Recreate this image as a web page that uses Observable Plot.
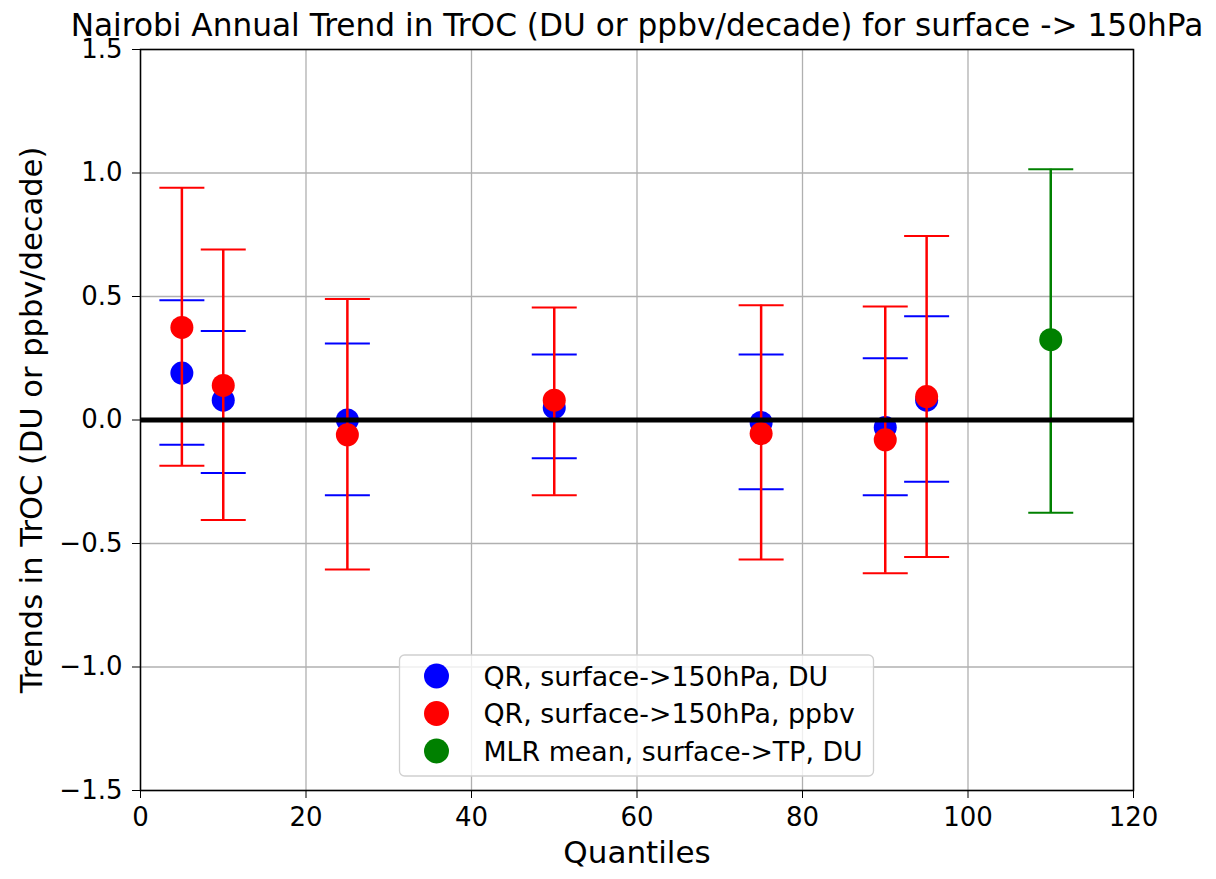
<!DOCTYPE html>
<html>
<head>
<meta charset="utf-8">
<script src="https://cdn.jsdelivr.net/npm/d3@7"></script>
<script src="https://cdn.jsdelivr.net/npm/@observablehq/plot@0.6"></script>
<style>
  html, body { margin: 0; padding: 0; background: #fff; }
  #chart svg { display: block; }
</style>
</head>
<body>
<div id="chart"></div>
<script>
// ---- Data ----
const titleText = "Nairobi Annual Trend in TrOC (DU or ppbv/decade) for surface -> 150hPa";
const xLabel = "Quantiles";
const yLabel = "Trends in TrOC (DU or ppbv/decade)";

const quantiles = [5, 10, 25, 50, 75, 90, 95];

const duTrend = [0.19, 0.08, 0.0, 0.05, -0.01, -0.03, 0.08];
const duLower = [-0.10, -0.215, -0.305, -0.155, -0.28, -0.305, -0.25];
const duUpper = [0.485, 0.36, 0.31, 0.265, 0.265, 0.25, 0.42];

const ppbvTrend = [0.375, 0.14, -0.06, 0.08, -0.055, -0.08, 0.095];
const ppbvLower = [-0.185, -0.405, -0.605, -0.305, -0.565, -0.62, -0.555];
const ppbvUpper = [0.94, 0.69, 0.49, 0.455, 0.465, 0.46, 0.745];

const mlrX = [110];
const mlrTrend = [0.325];
const mlrLower = [-0.375];
const mlrUpper = [1.015];

const xTicks = [0, 20, 40, 60, 80, 100, 120];
const yTicks = [-1.5, -1.0, -0.5, 0.0, 0.5, 1.0, 1.5];

const legendLabels = [
  "QR, surface->150hPa, DU",
  "QR, surface->150hPa, ppbv",
  "MLR mean, surface->TP, DU"
];
const seriesColors = ["#0000ff", "#ff0000", "#008000"];

// ---- Tables built from the arrays ----
const du = quantiles.map((q, i) => ({x: q, y: duTrend[i], lo: duLower[i], hi: duUpper[i]}));
const ppbv = quantiles.map((q, i) => ({x: q, y: ppbvTrend[i], lo: ppbvLower[i], hi: ppbvUpper[i]}));
const mlr = mlrX.map((q, i) => ({x: q, y: mlrTrend[i], lo: mlrLower[i], hi: mlrUpper[i]}));

// horizontal cap symbol (pixel width set by r)
const capSymbol = {
  draw(context, size) {
    const w = Math.sqrt(size / Math.PI);
    context.moveTo(-w, 0);
    context.lineTo(w, 0);
  }
};

const FONT = "DejaVu Sans, sans-serif";
const W = 1216, H = 879;
const mL = 140, mR = 83, mT = 49, mB = 89;

function errorMarks(data, color, withLine) {
  const marks = [];
  if (withLine) marks.push(Plot.ruleX(data, {x: "x", y1: "lo", y2: "hi", stroke: color, strokeWidth: 2.5}));
  marks.push(Plot.dot(data, {x: "x", y: "lo", symbol: capSymbol, r: 22.5, stroke: color, strokeWidth: 2, fill: "none"}));
  marks.push(Plot.dot(data, {x: "x", y: "hi", symbol: capSymbol, r: 22.5, stroke: color, strokeWidth: 2, fill: "none"}));
  return marks;
}

const chart = Plot.plot({
  width: W,
  height: H,
  marginLeft: mL,
  marginRight: mR,
  marginTop: mT,
  marginBottom: mB,
  style: {fontFamily: FONT, background: "#fff", color: "#000"},
  x: {domain: [0, 120], nice: false},
  y: {domain: [-1.5, 1.5], nice: false},
  marks: [
    Plot.gridX(xTicks, {stroke: "#b0b0b0", strokeOpacity: 1, strokeWidth: 1.3}),
    Plot.gridY(yTicks, {stroke: "#b0b0b0", strokeOpacity: 1, strokeWidth: 1.3}),
    // blue (DU)
    Plot.dot(du, {x: "x", y: "y", r: 11.5, fill: seriesColors[0]}),
    ...errorMarks(du, seriesColors[0], false),
    // red (ppbv)
    ...errorMarks(ppbv, seriesColors[1], true),
    Plot.dot(ppbv, {x: "x", y: "y", r: 11.5, fill: seriesColors[1]}),
    // green (MLR)
    ...errorMarks(mlr, seriesColors[2], true),
    Plot.dot(mlr, {x: "x", y: "y", r: 11.5, fill: seriesColors[2]}),
    // zero line
    Plot.ruleY([0], {stroke: "#000", strokeWidth: 5}),
    Plot.frame({stroke: "#000", strokeWidth: 1.5}),
    Plot.axisX({ticks: xTicks, tickSize: 8, tickPadding: 9, fontSize: 26, tickFormat: d => String(d), label: null}),
    Plot.axisY({ticks: yTicks, tickSize: 8, tickPadding: 10, fontSize: 26, tickFormat: d3.format(".1f"), label: null}),
    Plot.text([titleText], {frameAnchor: "top", dy: -14, lineAnchor: "bottom", fontSize: 31.2, fill: "#000"}),
    Plot.text([xLabel], {frameAnchor: "bottom", dy: 72, lineAnchor: "bottom", fontSize: 31, fill: "#000"}),
    Plot.text([yLabel], {frameAnchor: "left", dx: -108, rotate: -90, textAnchor: "middle", lineAnchor: "middle", fontSize: 30.5, fill: "#000"})
  ]
});

// ---- Legend (lower center inside the frame) ----
const svg = d3.select(chart);
const plotW = W - mL - mR;
const cx = mL + plotW / 2;
const boxW = 474, boxH = 121;
const boxX = cx - boxW / 2;
const boxY = (H - mB) - 14 - boxH;
const g = svg.append("g").attr("font-family", FONT).attr("text-anchor", "start");
g.append("rect")
  .attr("x", boxX).attr("y", boxY).attr("width", boxW).attr("height", boxH)
  .attr("rx", 5).attr("fill", "#fff").attr("fill-opacity", 0.8)
  .attr("stroke", "#d0d0d0").attr("stroke-width", 1.3);
legendLabels.forEach((label, i) => {
  const yy = boxY + 21 + i * 37.5;
  g.append("circle").attr("cx", boxX + 37).attr("cy", yy).attr("r", 12.5).attr("fill", seriesColors[i]);
  g.append("text").attr("x", boxX + 84).attr("y", yy).attr("dy", "0.36em")
    .attr("text-anchor", "start")
    .attr("font-size", 26.8).attr("fill", "#000").text(label);
});

document.getElementById("chart").appendChild(chart);
</script>
</body>
</html>
